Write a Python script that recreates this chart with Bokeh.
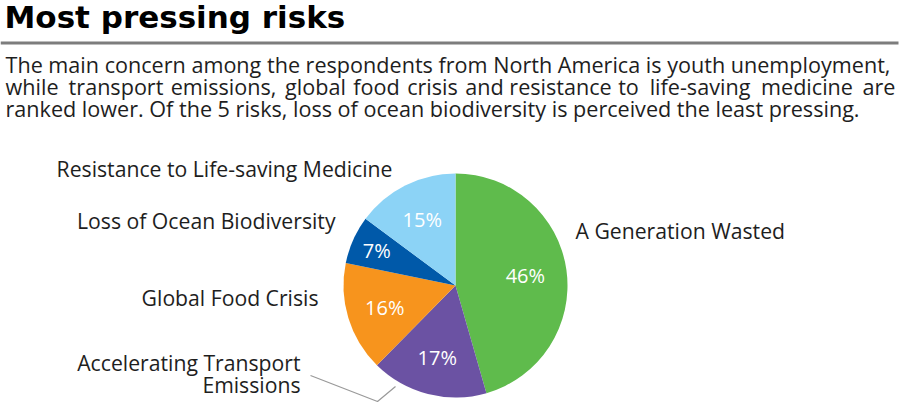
import math
from bokeh.plotting import figure
from bokeh.models import Range1d
from bokeh.core.properties import value
from bokeh.embed import file_html
from bokeh.resources import INLINE

W, H = 900, 420

# ---- data ----
categories = ["A Generation Wasted", "Accelerating Transport Emissions",
              "Global Food Crisis", "Loss of Ocean Biodiversity",
              "Resistance to Life-saving Medicine"]
shares = [46, 17, 16, 7, 15]
pct_labels = ["46%", "17%", "16%", "7%", "15%"]
colors = ["#5fbb4c", "#6b52a3", "#f7941d", "#0059a9", "#8cd3f6"]

title = "Most pressing risks"
body_line1 = "The main concern among the respondents from North  America is youth unemployment,"
body_line2_words = ["while", "transport", "emissions,", "global", "food", "crisis", "and",
                    "resistance", "to", "life-saving", "medicine", "are"]
body_line3 = "ranked lower. Of the 5 risks, loss of ocean biodiversity is perceived the least pressing."

# layout: centres of the words of the justified second line
line2_word_cx = [31, 115.5, 223, 315, 376, 432, 484, 560, 628, 699.5, 806.5, 878]

FONT = "Open Sans"
TXT = "#1e1e1e"

def Y(y):
    return H - y

def TB(yb, size):
    # baseline correction for the svg text rendering
    return H - (yb - 0.4 * size)

p = figure(width=W, height=H, x_range=Range1d(0, W), y_range=Range1d(0, H),
           output_backend="svg", toolbar_location=None, min_border=0)
p.axis.visible = False
p.grid.visible = False
p.outline_line_color = None
p.background_fill_color = "white"
p.border_fill_color = "white"

# title + rule
p.text(x=[4], y=[TB(28.5, 31)], text=[title], text_font=value("DejaVu Sans"),
       text_font_style="bold", text_font_size="31px", text_color="#000000",
       text_baseline="alphabetic")
p.line(x=[0, 898], y=[Y(42.5), Y(42.5)], line_color="#7d7d7d", line_width=3)

# body text
BS = 21.6
bt = dict(text_font=value(FONT), text_font_size=f"{BS}px", text_color=TXT,
          text_baseline="alphabetic")
p.text(x=[5], y=[TB(73, BS)], text=[body_line1], **bt)
n2 = len(body_line2_words)
p.text(x=[5], y=[TB(95, BS)], text=body_line2_words[:1], **bt)
p.text(x=line2_word_cx[1:-1], y=[TB(95, BS)] * (n2 - 2), text=body_line2_words[1:-1],
       text_align="center", **bt)
p.text(x=[895], y=[TB(95, BS)], text=body_line2_words[-1:], text_align="right", **bt)
p.text(x=[5], y=[TB(117, BS)], text=[body_line3], **bt)

# pie
cx, cy, r = 455, Y(285), 112
total = float(sum(shares))
cum = 0.0
starts, ends, lx, ly = [], [], [], []
rad_frac = [0.63, 0.66, 0.66, 0.77, 0.66]
for i, s in enumerate(shares):
    a0 = cum / total * 2 * math.pi
    cum += s
    a1 = cum / total * 2 * math.pi
    starts.append(math.pi / 2 - a1)
    ends.append(math.pi / 2 - a0)
    mid = (a0 + a1) / 2
    lx.append(cx + rad_frac[i] * r * math.sin(mid))
    ly.append(cy + rad_frac[i] * r * math.cos(mid))

p.wedge(x=cx, y=cy, radius=r, start_angle=starts, end_angle=ends,
        fill_color=colors, line_color=None, direction="anticlock")
p.text(x=lx, y=ly, text=pct_labels, text_font=value(FONT), text_font_size="20px",
       text_color="white", text_align="center", text_baseline="middle")

# category labels
LS = 21.2
lab = dict(text_font=value(FONT), text_font_size=f"{LS}px", text_color=TXT,
           text_baseline="alphabetic")
p.text(x=[575], y=[TB(238, LS)], text=[categories[0]], **lab)
p.text(x=[300, 300], y=[TB(370, LS), TB(392, LS)], text=["Accelerating Transport", "Emissions"],
       text_align="right", **lab)
p.text(x=[318], y=[TB(305, LS)], text=[categories[2]], text_align="right", **lab)
p.text(x=[335], y=[TB(228, LS)], text=[categories[3]], text_align="right", **lab)
p.text(x=[392], y=[TB(176, LS)], text=[categories[4]], text_align="right", **lab)

# leader line
p.line(x=[310, 377, 395], y=[Y(375), Y(401), Y(386)], line_color="#999999", line_width=1.2)

open("out.html", "w").write(file_html(p, INLINE))
